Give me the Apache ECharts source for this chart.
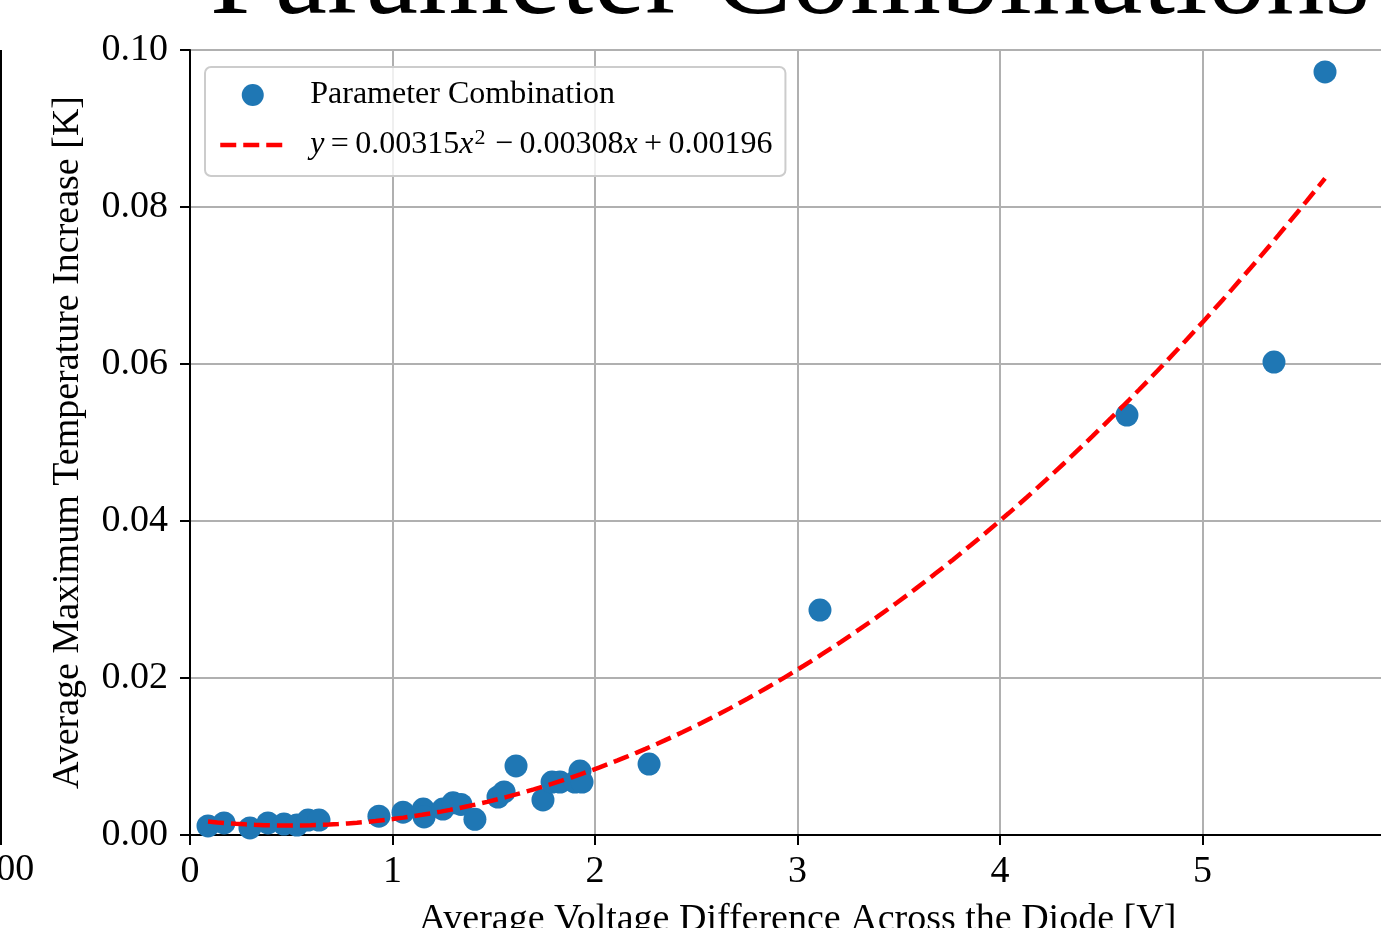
<!DOCTYPE html>
<html>
<head>
<meta charset="utf-8">
<script src="https://cdn.jsdelivr.net/npm/echarts@6/dist/echarts.min.js"></script>
<style>
  html, body { margin: 0; padding: 0; background: #fff; }
  #chart { width: 1381px; height: 928px; }
</style>
</head>
<body>
<div id="chart"></div>
<script>
// Average voltage across the diode [V] for each parameter combination
const voltage = [
  0.089, 0.168, 0.296, 0.385, 0.464, 0.528, 0.583, 0.637,
  0.933, 1.052, 1.152, 1.156, 1.249, 1.299, 1.338, 1.407,
  1.521, 1.551, 1.610, 1.743, 1.788, 1.827, 1.901, 1.926, 1.936,
  2.267, 3.111, 4.627, 5.353, 5.605
];
// Average maximum temperature increase [K]
const tempRise = [
  0.00115, 0.00153, 0.00090, 0.00153, 0.00140, 0.00127, 0.00190, 0.00190,
  0.00240, 0.00290, 0.00330, 0.00230, 0.00330, 0.00410, 0.00390, 0.00200,
  0.00484, 0.00548, 0.00880, 0.00446, 0.00675, 0.00675, 0.00675, 0.00815, 0.00675,
  0.00904, 0.02866, 0.05350, 0.06025, 0.09720
];
// Quadratic fit coefficients: a*x^2 + b*x + c
const fitCoef = [0.00315, -0.00308, 0.00196];
const xTicks = [0, 1, 2, 3, 4, 5, 6];
const yTicks = [0.00, 0.02, 0.04, 0.06, 0.08, 0.10];

const SERIF = '"Liberation Serif", "DejaVu Serif", serif';
const SCATTER_NAME = 'Parameter Combination';
const FIT_NAME = 'Quadratic fit';

const points = voltage.map((v, i) => [v, tempRise[i]]);

// evaluate the fitted quadratic across the measured voltage range
const fitLine = [];
const xLo = Math.min(...voltage), xHi = Math.max(...voltage);
const nSamples = 120;
for (let k = 0; k <= nSamples; k++) {
  const x = xLo + (xHi - xLo) * k / nSamples;
  fitLine.push([x, fitCoef[0] * x * x + fitCoef[1] * x + fitCoef[2]]);
}

const SP = '\u2009';
function fmtTerm(val, withSign) {
  const s = Math.abs(val).toFixed(5);
  if (!withSign) return (val < 0 ? '\u2212' : '') + s;
  return SP + (val < 0 ? '\u2212' : '+') + SP + s;
}
const fitLabel = '{i|y}' + SP + '=' + SP + fmtTerm(fitCoef[0], false) + '{i|x}{sup|2}'
  + fmtTerm(fitCoef[1], true) + '{i|x}' + fmtTerm(fitCoef[2], true);

const chart = echarts.init(document.getElementById('chart'), null, { renderer: 'canvas' });

const option = {
  backgroundColor: '#ffffff',
  animation: false,
  grid: {
    left: 190, top: 50, width: 1215, height: 785,
    containLabel: false, outerBoundsMode: 'none',
    show: true, borderColor: '#000', borderWidth: 2, backgroundColor: 'transparent'
  },
  xAxis: {
    type: 'value',
    min: xTicks[0], max: xTicks[xTicks.length - 1], interval: 1,
    name: 'Average Voltage Difference Across the Diode [V]',
    nameLocation: 'middle', nameGap: 66,
    nameTextStyle: { fontFamily: SERIF, fontSize: 38, color: '#000' },
    axisLine: { show: true, onZero: false, lineStyle: { color: '#000', width: 2 } },
    axisTick: { show: true, inside: false, length: 10, lineStyle: { color: '#000', width: 2 } },
    axisLabel: { fontFamily: SERIF, fontSize: 38, color: '#000', margin: 18,
      formatter: v => String(v) },
    splitLine: { show: true, lineStyle: { color: '#b0b0b0', width: 2 } }
  },
  yAxis: {
    type: 'value',
    min: yTicks[0], max: yTicks[yTicks.length - 1], interval: 0.02,
    name: 'Average Maximum Temperature Increase [K]',
    nameLocation: 'middle', nameGap: 103,
    nameTextStyle: { fontFamily: SERIF, fontSize: 38, color: '#000' },
    axisLine: { show: true, onZero: false, lineStyle: { color: '#000', width: 2 } },
    axisTick: { show: true, inside: false, length: 10, lineStyle: { color: '#000', width: 2 } },
    axisLabel: { fontFamily: SERIF, fontSize: 38, color: '#000', margin: 22,
      formatter: v => v.toFixed(2) },
    splitLine: { show: true, lineStyle: { color: '#b0b0b0', width: 2 } }
  },
  legend: {
    orient: 'vertical', left: 205, top: 67,
    data: [
      { name: SCATTER_NAME, icon: 'circle' },
      { name: FIT_NAME, itemStyle: { opacity: 0 } }
    ],
    itemWidth: 65, itemHeight: 22, itemGap: 16,
    padding: [12, 13, 13, 13],
    backgroundColor: 'rgba(255,255,255,0.8)',
    borderColor: '#cccccc', borderWidth: 2, borderRadius: 6,
    lineStyle: { width: 4.5 },
    textStyle: {
      fontFamily: SERIF, fontSize: 32, color: '#000', lineHeight: 32,
      padding: [0, 0, 0, 20],
      rich: {
        i: { fontFamily: SERIF, fontSize: 32, fontStyle: 'italic', color: '#000', lineHeight: 32 },
        sup: { fontFamily: SERIF, fontSize: 22, color: '#000', lineHeight: 32, padding: [0, 3, 14, 1] }
      }
    },
    formatter: name => name === FIT_NAME ? fitLabel : name
  },
  series: [
    {
      name: SCATTER_NAME, type: 'scatter', data: points,
      symbol: 'circle', symbolSize: 23,
      itemStyle: { color: '#1f77b4', opacity: 1 }, z: 2
    },
    {
      name: FIT_NAME, type: 'line', data: fitLine,
      showSymbol: false, symbol: 'none', smooth: false,
      lineStyle: { color: '#ff0000', width: 4.5, type: [16, 7] },
      itemStyle: { color: '#ff0000' }, z: 3
    }
  ],
  graphic: [
    {
      type: 'text', x: 790, y: -18,
      style: { text: 'Parameter Combinations', font: '117px ' + SERIF, fill: '#000',
        align: 'center', verticalAlign: 'middle' }
    },
    {
      type: 'line', shape: { x1: 1, y1: 50, x2: 1, y2: 845 },
      style: { stroke: '#000', lineWidth: 2 }
    },
    {
      type: 'text', x: 1, y: 870,
      style: { text: '1.00', font: '38px ' + SERIF, fill: '#000', align: 'center', verticalAlign: 'middle' }
    }
  ]
};
chart.setOption(option);
</script>
</body>
</html>
